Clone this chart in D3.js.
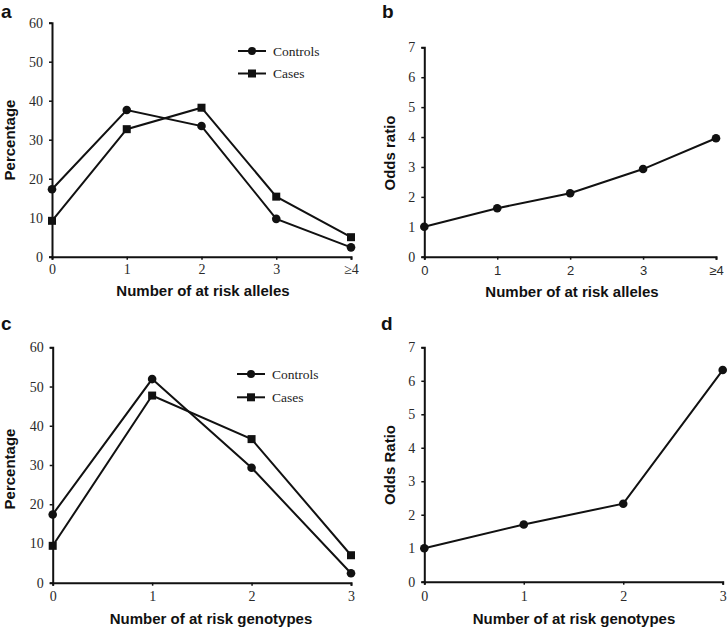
<!DOCTYPE html>
<html><head><meta charset="utf-8">
<script src="https://cdn.jsdelivr.net/npm/d3@7"></script>
<style>body{margin:0;background:#fff}svg{display:block}</style>
</head><body>
<svg id="chart" width="727" height="629"></svg>
<script>
// ---- data ----
const allelesCats = ["0", "1", "2", "3", "\u22654"];
const genotypeCats = ["0", "1", "2", "3"];
const allelesControls = [17.3, 37.6, 33.5, 9.7, 2.4];
const allelesCases = [9.2, 32.7, 38.2, 15.4, 5.0];
const allelesOR = [1.0, 1.62, 2.12, 2.93, 3.96];
const genotypeControls = [17.4, 51.9, 29.3, 2.4];
const genotypeCases = [9.4, 47.7, 36.6, 7.0];
const genotypeOR = [1.0, 1.71, 2.33, 6.32];
const pctTicks = [0, 10, 20, 30, 40, 50, 60];
const orTicks = [0, 1, 2, 3, 4, 5, 6, 7];

const svg = d3.select("#chart");
const SERIF = "'Liberation Serif','Times New Roman',serif";
const SANS = "'Liberation Sans',Arial,sans-serif";

function panel(o) {
  const g = svg.append("g");
  const x = d3.scalePoint().domain(o.cats).range([o.x0, o.x1]);
  const y = d3.scaleLinear().domain([0, o.ymax]).range([o.y0, o.y1]);

  const ya = g.append("g").attr("transform", `translate(${o.x0},0)`)
    .call(d3.axisLeft(y).tickValues(o.yticks).tickSize(3).tickPadding(6).tickFormat(d3.format("d")));
  const xa = g.append("g").attr("transform", `translate(0,${o.y0})`)
    .call(d3.axisBottom(x).tickSize(3).tickPadding(o.xpad));
  [ya, xa].forEach(a => {
    a.select(".domain").attr("stroke", "#111").attr("stroke-width", 2);
    a.selectAll(".tick line").attr("stroke", "#111").attr("stroke-width", 1.5);
  });
  ya.selectAll("text").attr("font-family", SERIF).attr("font-size", 14).attr("fill", "#2a2a2a");
  xa.selectAll("text").attr("font-family", o.xSans ? SANS : SERIF).attr("font-size", o.xSans ? 13 : 14).attr("fill", "#2a2a2a");

  const line = d3.line().x((d, i) => x(o.cats[i])).y(d => y(d));
  o.series.forEach(s => {
    g.append("path").datum(s.values).attr("d", line)
      .attr("fill", "none").attr("stroke", "#111").attr("stroke-width", 2);
    s.values.forEach((v, i) => {
      if (s.shape === "circle") {
        g.append("circle").attr("cx", x(o.cats[i])).attr("cy", y(v)).attr("r", 4.3).attr("fill", "#111");
      } else {
        g.append("rect").attr("x", x(o.cats[i]) - 4).attr("y", y(v) - 4).attr("width", 8).attr("height", 8).attr("fill", "#111");
      }
    });
  });

  if (o.legend) {
    o.series.forEach((s, i) => {
      const ly = o.legend.y + i * o.legend.dy;
      g.append("line").attr("x1", o.legend.x).attr("x2", o.legend.x + 28).attr("y1", ly).attr("y2", ly)
        .attr("stroke", "#111").attr("stroke-width", 2);
      const mx = o.legend.x + 14;
      if (s.shape === "circle") g.append("circle").attr("cx", mx).attr("cy", ly).attr("r", 4).attr("fill", "#111");
      else g.append("rect").attr("x", mx - 4).attr("y", ly - 4).attr("width", 8).attr("height", 8).attr("fill", "#111");
      g.append("text").attr("x", o.legend.x + 35).attr("y", ly).attr("dy", "0.35em")
        .attr("font-family", SERIF).attr("font-size", 13.5).attr("fill", "#222").text(s.name);
    });
  }

  g.append("text").attr("x", o.xtx).attr("y", o.xty).attr("text-anchor", "middle")
    .attr("font-family", SANS).attr("font-weight", "bold").attr("font-size", 15).attr("fill", "#111").text(o.xtitle);
  g.append("text").attr("transform", `translate(${o.ytx},${o.yty}) rotate(-90)`).attr("text-anchor", "middle")
    .attr("dy", "0.35em")
    .attr("font-family", SANS).attr("font-weight", "bold").attr("font-size", 15).attr("fill", "#111").text(o.ytitle);
  g.append("text").attr("x", o.lx).attr("y", o.ly)
    .attr("font-family", SANS).attr("font-weight", "bold").attr("font-size", 19).attr("fill", "#111").text(o.letter);
}

panel({cats: allelesCats, ymax: 60, yticks: pctTicks, x0: 52, x1: 351, y0: 256.7, y1: 22.7, xpad: 4,
  series: [{name: "Controls", shape: "circle", values: allelesControls}, {name: "Cases", shape: "square", values: allelesCases}],
  legend: {x: 238, y: 51, dy: 22.5},
  xtitle: "Number of at risk alleles", xtx: 203, xty: 296, ytitle: "Percentage", ytx: 10, yty: 140,
  letter: "a", lx: 1, ly: 18});
panel({cats: allelesCats, ymax: 7, yticks: orTicks, x0: 424.3, x1: 716, y0: 256.7, y1: 47.3, xpad: 6, xSans: true,
  series: [{name: "OR", shape: "circle", values: allelesOR}],
  xtitle: "Number of at risk alleles", xtx: 572, xty: 297, ytitle: "Odds ratio", ytx: 390, yty: 153,
  letter: "b", lx: 382, ly: 18});
panel({cats: genotypeCats, ymax: 60, yticks: pctTicks, x0: 52.7, x1: 351, y0: 582.7, y1: 347.3, xpad: 5,
  series: [{name: "Controls", shape: "circle", values: genotypeControls}, {name: "Cases", shape: "square", values: genotypeCases}],
  legend: {x: 237, y: 374, dy: 23.3},
  xtitle: "Number of at risk genotypes", xtx: 211, xty: 624, ytitle: "Percentage", ytx: 10, yty: 469,
  letter: "c", lx: 1, ly: 330});
panel({cats: genotypeCats, ymax: 7, yticks: orTicks, x0: 424.3, x1: 722.7, y0: 581.7, y1: 347.3, xpad: 6,
  series: [{name: "OR", shape: "circle", values: genotypeOR}],
  xtitle: "Number of at risk genotypes", xtx: 574, xty: 624, ytitle: "Odds Ratio", ytx: 390, yty: 465,
  letter: "d", lx: 381, ly: 330});
</script>
</body></html>
